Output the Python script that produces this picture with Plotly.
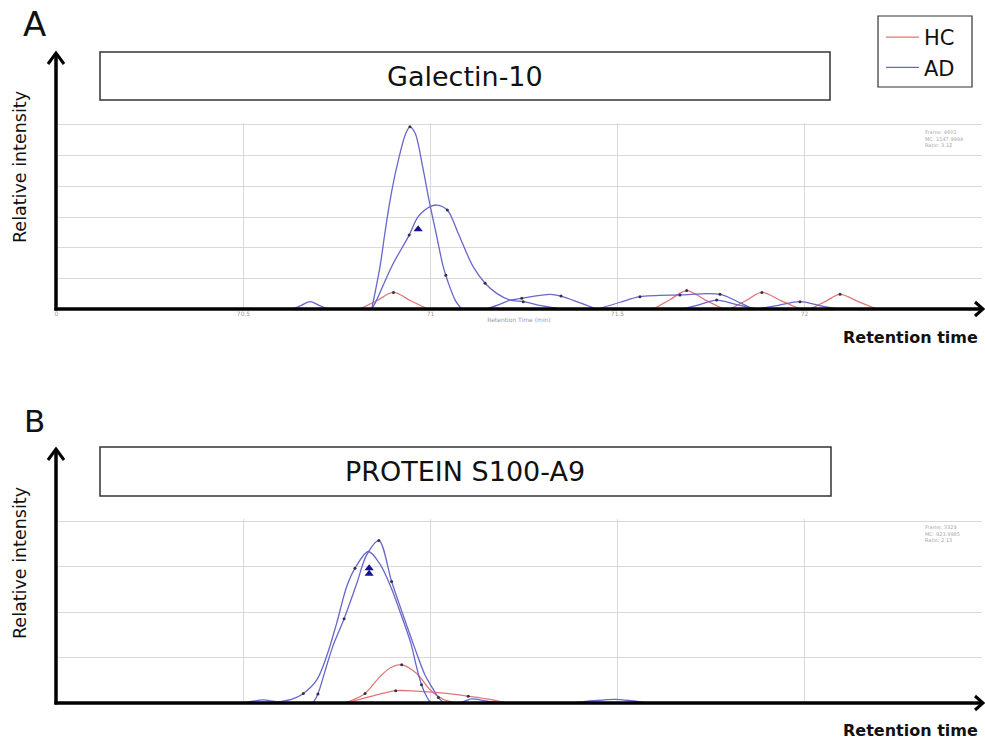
import plotly.graph_objects as go

# ---------------------------------------------------------------------------
# Extracted-ion chromatograms: retention time (min) vs relative intensity
# ---------------------------------------------------------------------------

# Panel A - Galectin-10
a_ad_main_t = [70.843, 70.865, 70.878, 70.892, 70.910, 70.934, 70.945, 70.959,
               70.979, 70.996, 71.015, 71.034, 71.048, 71.066, 71.083]
a_ad_main_i = [0.0, 1.38, 2.47, 3.55, 4.64, 5.73, 5.94, 5.73,
               4.64, 3.55, 2.47, 1.38, 0.84, 0.29, 0.0]

a_ad_broad_t = [70.843, 70.856, 70.896, 70.943, 70.967, 70.999, 71.017, 71.045,
                71.074, 71.114, 71.146, 71.177, 71.213, 71.248, 71.300, 71.346]
a_ad_broad_i = [0.0, 0.29, 1.38, 2.41, 3.01, 3.34, 3.39, 3.23,
                2.47, 1.38, 0.84, 0.51, 0.29, 0.24, 0.10, 0.0]

a_ad_hump1_t = [71.150, 71.185, 71.213, 71.244, 71.320, 71.349, 71.400, 71.444]
a_ad_hump1_i = [0.0, 0.15, 0.29, 0.35, 0.48, 0.42, 0.20, 0.0]

a_ad_hump2_t = [71.448, 71.507, 71.560, 71.667, 71.774, 71.828, 71.862]
a_ad_hump2_i = [0.0, 0.22, 0.40, 0.46, 0.48, 0.20, 0.0]

a_ad_hump3_t = [71.675, 71.720, 71.765, 71.818, 71.872]
a_ad_hump3_i = [0.0, 0.145, 0.29, 0.145, 0.0]

a_ad_hump4_t = [71.873, 71.930, 71.988, 72.037, 72.086]
a_ad_hump4_i = [0.0, 0.12, 0.24, 0.12, 0.0]

a_ad_early_t = [70.632, 70.655, 70.678, 70.702, 70.726]
a_ad_early_i = [0.0, 0.12, 0.24, 0.12, 0.0]

a_hc_1_t = [70.811, 70.856, 70.901, 70.947, 70.993]
a_hc_1_i = [0.0, 0.27, 0.54, 0.27, 0.0]
a_hc_2_t = [71.596, 71.640, 71.685, 71.734, 71.783]
a_hc_2_i = [0.0, 0.30, 0.60, 0.30, 0.0]
a_hc_3_t = [71.801, 71.843, 71.886, 71.937, 71.988]
a_hc_3_i = [0.0, 0.27, 0.54, 0.27, 0.0]
a_hc_4_t = [72.015, 72.055, 72.095, 72.144, 72.193]
a_hc_4_i = [0.0, 0.24, 0.48, 0.24, 0.0]

# scan points drawn as small dots on the traces
a_scan_t = [70.945, 71.041, 70.943, 71.045, 71.146, 71.248, 71.244, 71.349,
            70.901, 71.685, 71.886, 72.095, 71.560, 71.667, 71.774, 71.765, 71.988]
a_scan_i = [5.94, 1.10, 2.41, 3.23, 0.84, 0.24, 0.35, 0.42,
            0.54, 0.60, 0.54, 0.48, 0.40, 0.46, 0.48, 0.29, 0.24]

# precursor marker
a_marker_t = [70.967]
a_marker_i = [2.60]

# Panel B - PROTEIN S100-A9
b_ad_high_t = [70.686, 70.699, 70.718, 70.739, 70.769, 70.803, 70.829, 70.862,
               70.896, 70.926, 70.956, 70.985, 71.006, 71.021, 71.036]
b_ad_high_i = [0.0, 0.20, 0.70, 1.25, 1.85, 2.63, 3.25, 3.57,
               2.67, 1.95, 1.25, 0.62, 0.32, 0.12, 0.0]

b_ad_low_t = [70.557, 70.598, 70.632, 70.660, 70.696, 70.722, 70.749, 70.776,
              70.798, 70.834, 70.865, 70.894, 70.921, 70.948, 70.961, 70.976,
              70.991, 71.001]
b_ad_low_i = [0.0, 0.03, 0.09, 0.21, 0.51, 1.02, 1.75, 2.56,
              2.96, 3.33, 3.05, 2.55, 1.95, 1.30, 0.85, 0.40,
              0.12, 0.0]

b_ad_small1_t = [70.499, 70.525, 70.552, 70.579, 70.606]
b_ad_small1_i = [0.0, 0.04, 0.07, 0.04, 0.0]
b_ad_small2_t = [71.079, 71.095, 71.110, 71.159, 71.205]
b_ad_small2_i = [0.0, 0.05, 0.09, 0.03, 0.0]
b_ad_small3_t = [71.381, 71.437, 71.493, 71.536, 71.579]
b_ad_small3_i = [0.0, 0.05, 0.08, 0.05, 0.0]

b_hc_high_t = [70.767, 70.790, 70.825, 70.865, 70.894, 70.923, 70.963, 70.999,
               71.034, 71.070]
b_hc_high_i = [0.0, 0.06, 0.21, 0.58, 0.78, 0.84, 0.65, 0.29,
               0.08, 0.0]

b_hc_low_t = [70.776, 70.838, 70.907, 70.963, 71.043, 71.101, 71.159, 71.204]
b_hc_low_i = [0.0, 0.14, 0.27, 0.26, 0.21, 0.15, 0.08, 0.0]

b_scan_t = [70.798, 70.769, 70.862, 70.896, 70.976, 71.021, 70.660, 70.699,
            70.825, 70.923, 70.907, 71.101]
b_scan_i = [2.96, 1.85, 3.57, 2.67, 0.40, 0.12, 0.21, 0.20,
            0.21, 0.84, 0.27, 0.15]

b_marker_t = [70.836, 70.836]
b_marker_i = [2.96, 2.84]

# axis settings
x_range = [69.9987, 72.4746]
x_ticks = [70.0, 70.5, 71.0, 71.5, 72.0]
x_ticktext = ["0", "70.5", "71", "71.5", "72"]
a_grid = [1, 2, 3, 4, 5, 6]
b_grid = [1, 2, 3, 4]

HC_COLOR = "#e07777"
AD_COLOR = "#6767cc"
FONT = "DejaVu Sans"

W, H = 985, 749


def fx(p):
    return p / W


def fy(p):
    return 1 - p / H


fig = go.Figure()


def add_curve(t, i, color, name, axes, legend=False, rank=1):
    fig.add_trace(go.Scatter(
        x=t, y=i, mode="lines", line=dict(color=color, width=1.3, shape="spline", smoothing=0.9),
        name=name, legendgroup=name, showlegend=legend, legendrank=rank,
        xaxis=axes[0], yaxis=axes[1], hoverinfo="skip"))


A = ("x", "y")
B = ("x2", "y2")

# HC traces first so they lead the legend
add_curve(a_hc_1_t, a_hc_1_i, HC_COLOR, "HC", A, legend=True, rank=1)
for t, i in [(a_hc_2_t, a_hc_2_i), (a_hc_3_t, a_hc_3_i), (a_hc_4_t, a_hc_4_i)]:
    add_curve(t, i, HC_COLOR, "HC", A)
add_curve(a_ad_main_t, a_ad_main_i, AD_COLOR, "AD", A, legend=True, rank=2)
for t, i in [(a_ad_broad_t, a_ad_broad_i), (a_ad_hump1_t, a_ad_hump1_i),
             (a_ad_hump2_t, a_ad_hump2_i), (a_ad_hump3_t, a_ad_hump3_i),
             (a_ad_hump4_t, a_ad_hump4_i), (a_ad_early_t, a_ad_early_i)]:
    add_curve(t, i, AD_COLOR, "AD", A)

for t, i in [(b_hc_high_t, b_hc_high_i), (b_hc_low_t, b_hc_low_i)]:
    add_curve(t, i, HC_COLOR, "HC", B)
for t, i in [(b_ad_high_t, b_ad_high_i), (b_ad_low_t, b_ad_low_i),
             (b_ad_small1_t, b_ad_small1_i), (b_ad_small2_t, b_ad_small2_i),
             (b_ad_small3_t, b_ad_small3_i)]:
    add_curve(t, i, AD_COLOR, "AD", B)

for (t, i), axes in [((a_scan_t, a_scan_i), A), ((b_scan_t, b_scan_i), B)]:
    fig.add_trace(go.Scatter(x=t, y=i, mode="markers", showlegend=False,
                             marker=dict(size=3, color="#333340"),
                             xaxis=axes[0], yaxis=axes[1], hoverinfo="skip"))
for (t, i), axes in [((a_marker_t, a_marker_i), A), ((b_marker_t, b_marker_i), B)]:
    fig.add_trace(go.Scatter(x=t, y=i, mode="markers", showlegend=False,
                             marker=dict(symbol="triangle-up", size=8, color="#15158a"),
                             xaxis=axes[0], yaxis=axes[1], hoverinfo="skip"))

grid_col = "#d9d9d9"
x_dom = [fx(56), fx(982)]

fig.update_layout(
    width=W, height=H,
    margin=dict(l=0, r=0, t=0, b=0),
    paper_bgcolor="white", plot_bgcolor="white",
    font=dict(family=FONT, color="#111"),
    xaxis=dict(domain=x_dom, range=x_range, anchor="y", tickvals=x_ticks, ticktext=x_ticktext,
               showgrid=True, gridcolor=grid_col, gridwidth=1, zeroline=False, showline=False,
               ticks="", tickfont=dict(size=6, color="#9a9a9a"),
               title=dict(text="Retention Time (min)", font=dict(size=6, color="#9a9a9a"), standoff=1)),
    yaxis=dict(domain=[fy(309), fy(123)], range=[0, 6.065], anchor="x", tickvals=a_grid,
               showticklabels=False, showgrid=True, gridcolor=grid_col, zeroline=False, ticks=""),
    xaxis2=dict(domain=x_dom, range=x_range, anchor="y2", tickvals=x_ticks[1:],
                showticklabels=False, showgrid=True, gridcolor=grid_col, zeroline=False, ticks=""),
    yaxis2=dict(domain=[fy(703), fy(519)], range=[0, 4.044], anchor="x2", tickvals=b_grid,
                showticklabels=False, showgrid=True, gridcolor=grid_col, zeroline=False, ticks=""),
    # legend entries sit inside a framed box drawn as a shape below
    legend=dict(x=fx(881), y=fy(17), xanchor="left", yanchor="top",
                bgcolor="rgba(0,0,0,0)", borderwidth=0,
                font=dict(size=21, family=FONT, color="#111"), itemwidth=33, tracegroupgap=0),
)

shapes = [dict(type="rect", xref="paper", yref="paper", x0=fx(878), x1=fx(972),
               y0=fy(87), y1=fy(16), line=dict(color="#333", width=1.2), fillcolor="white",
               layer="below")]
annotations = []


def note(text, x, y, size, **kw):
    d = dict(text=text, x=fx(x), y=fy(y), xref="paper", yref="paper", showarrow=False,
             xanchor="center", yanchor="middle", font=dict(size=size, family=FONT, color="#111"))
    d.update(kw)
    annotations.append(d)


def axis_arrows(y_base, y_top):
    # vertical axis with chevron head
    shapes.append(dict(type="line", xref="paper", yref="paper", x0=fx(56), x1=fx(56),
                       y0=fy(y_base + 1.5), y1=fy(y_top + 1), line=dict(color="black", width=3.5)))
    shapes.append(dict(type="path", xref="paper", yref="paper",
                       path=f"M {fx(48)} {fy(y_top + 11)} L {fx(56)} {fy(y_top)} L {fx(64)} {fy(y_top + 11)}",
                       line=dict(color="black", width=3)))
    # horizontal axis with chevron head
    shapes.append(dict(type="line", xref="paper", yref="paper", x0=fx(54.5), x1=fx(982),
                       y0=fy(y_base), y1=fy(y_base), line=dict(color="black", width=3.5)))
    shapes.append(dict(type="path", xref="paper", yref="paper",
                       path=f"M {fx(975)} {fy(y_base - 7)} L {fx(983)} {fy(y_base)} L {fx(975)} {fy(y_base + 7)}",
                       line=dict(color="black", width=3)))


axis_arrows(309, 53)
axis_arrows(703, 449)

for (top, bottom, right, text, cy) in [(52, 100, 830, "Galectin-10", 76),
                                       (447, 496, 831, "PROTEIN S100-A9", 471.5)]:
    shapes.append(dict(type="rect", xref="paper", yref="paper", x0=fx(100), x1=fx(right),
                       y0=fy(bottom), y1=fy(top), line=dict(color="#333", width=1.5),
                       fillcolor="white", layer="below"))
    note(text, 465, cy, 27)

note("A", 34, 24, 34)
note("B", 34, 421, 31)

for cy in [167, 563]:
    note("Relative intensity", 20, cy, 17.5, textangle=-90)

for cy in [337, 730]:
    note("<b>Retention time</b>", 910, cy, 16)

for (txt, cy) in [("Frame: 4601<br>MC: 1147.9994<br>Ratio: 3.12", 138),
                  ("Frame: 3329<br>MC: 923.9985<br>Ratio: 2.13", 533)]:
    note(txt, 923, cy, 5, xanchor="left", align="left",
         font=dict(size=5, family=FONT, color="#a8a8a8"))

fig.update_layout(shapes=shapes, annotations=annotations)
fig.write_html("out.html")
